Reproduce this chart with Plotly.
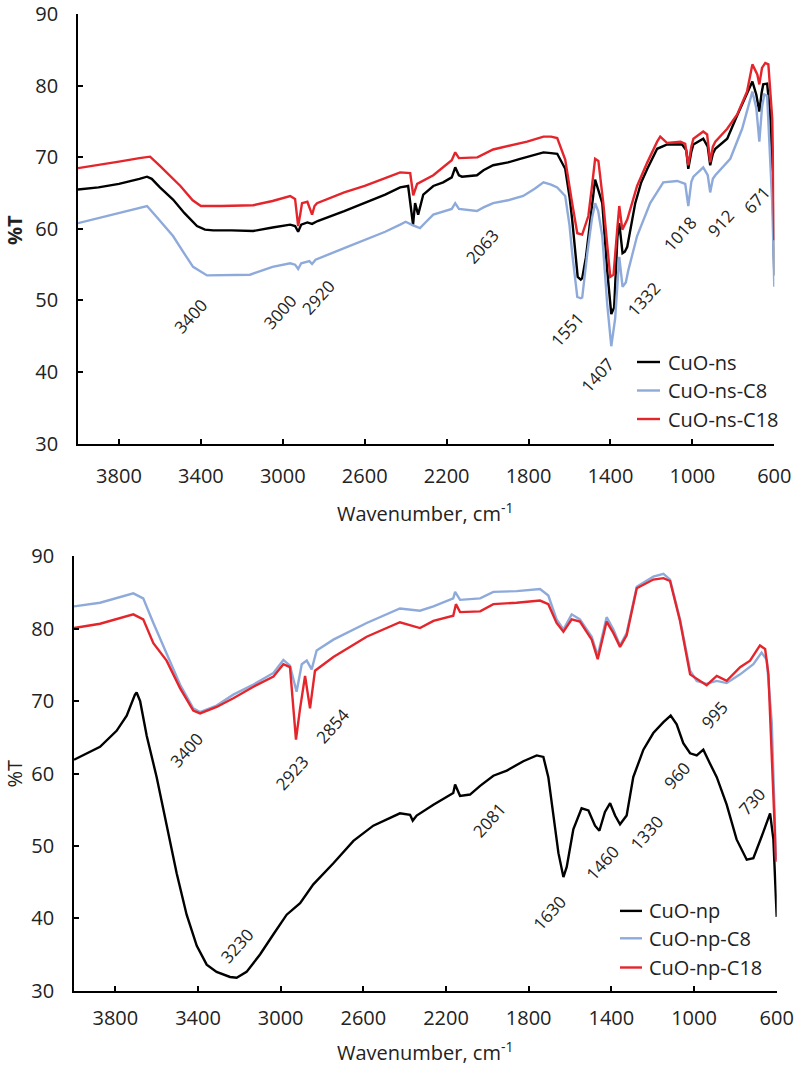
import plotly.graph_objects as go

# ---------------- Top panel: CuO-ns ----------------
ns_wn = [4000, 3900, 3800, 3750, 3700, 3663, 3640, 3600, 3536, 3480, 3419, 3380, 3340, 3250, 3145,
         3050, 2964, 2940, 2925, 2910, 2880, 2857, 2830, 2700, 2600, 2500, 2427, 2388, 2364, 2354,
         2339, 2314, 2265, 2217, 2175, 2158, 2140, 2125, 2052, 2020, 1973, 1900, 1841, 1780, 1727,
         1690, 1660, 1621, 1600, 1587, 1560, 1545, 1538, 1520, 1508, 1490, 1475, 1460, 1440, 1416,
         1396, 1382, 1366, 1357, 1341, 1330, 1318, 1279, 1250, 1220, 1172, 1123, 1050, 1030, 1020,
         1005, 995, 947, 925, 913, 900, 888, 830, 781, 733, 707, 688, 673, 662, 654, 635, 620, 610, 600]
ns_T = [65.5, 65.8, 66.3, 66.6, 67.0, 67.3, 67.0, 65.8, 64.1, 62.2, 60.4, 59.9, 59.8, 59.8, 59.7,
        60.2, 60.6, 60.4, 59.6, 60.6, 60.9, 60.7, 61.1, 62.5, 63.6, 64.8, 65.8, 66.0, 60.6, 63.6,
        62.0, 64.8, 66.0, 66.5, 67.2, 68.6, 67.5, 67.3, 67.5, 68.2, 68.9, 69.3, 69.8, 70.3, 70.7,
        70.6, 70.5, 68.4, 64.5, 61.3, 53.3, 52.9, 53.1, 56.0, 58.9, 63.0, 66.9, 65.5, 63.6, 54.2,
        48.1, 49.0, 58.9, 60.8, 56.6, 56.8, 57.5, 63.6, 66.5, 68.4, 71.2, 71.8, 71.8, 71.0, 68.4,
        70.8, 71.8, 72.6, 71.5, 68.9, 70.5, 71.2, 72.6, 75.9, 78.8, 80.6, 78.8, 76.4, 79.0, 80.2,
        80.3, 76.0, 68.4, 53.5]

ns_c8_wn = [4000, 3900, 3800, 3700, 3663, 3620, 3536, 3480, 3438, 3370, 3250, 3160, 3050, 2964, 2940,
            2925, 2910, 2870, 2857, 2840, 2700, 2600, 2500, 2427, 2400, 2364, 2330, 2300, 2265, 2175,
            2158, 2140, 2052, 2020, 1973, 1900, 1826, 1770, 1727, 1690, 1660, 1621, 1600, 1587, 1562,
            1545, 1538, 1513, 1490, 1475, 1460, 1440, 1416, 1396, 1377, 1357, 1341, 1325, 1313, 1270,
            1206, 1142, 1074, 1035, 1020, 1005, 995, 947, 925, 913, 900, 888, 815, 757, 707, 688, 673,
            660, 649, 635, 620, 610, 600]
ns_c8_T = [60.8, 61.5, 62.2, 62.9, 63.2, 61.8, 59.0, 56.5, 54.7, 53.5, 53.5, 53.6, 54.7, 55.2, 55.0,
           54.4, 55.2, 55.5, 55.1, 55.7, 57.3, 58.4, 59.6, 60.6, 61.0, 60.5, 60.1, 61.0, 62.0, 62.8,
           63.6, 62.8, 62.5, 63.0, 63.6, 64.0, 64.6, 65.6, 66.5, 66.2, 65.8, 64.6, 60.5, 56.6, 50.5,
           50.3, 50.4, 56.6, 61.5, 63.6, 62.5, 59.0, 49.5, 43.6, 47.5, 56.1, 51.9, 52.5, 54.2, 59.0,
           63.6, 66.5, 66.7, 66.3, 63.2, 66.6, 67.3, 68.6, 67.5, 65.1, 67.0, 67.5, 69.8, 74.0, 79.2,
           76.9, 72.2, 77.0, 78.8, 78.6, 70.0, 63.6, 51.9]

ns_c18_wn = [4000, 3900, 3800, 3700, 3648, 3600, 3500, 3440, 3400, 3300, 3145, 3050, 2964, 2940, 2925,
             2915, 2906, 2880, 2857, 2845, 2833, 2700, 2600, 2500, 2427, 2378, 2363, 2344, 2300, 2265,
             2175, 2158, 2140, 2100, 2050, 1973, 1900, 1807, 1727, 1690, 1660, 1621, 1587, 1562, 1538,
             1508, 1490, 1475, 1459, 1435, 1401, 1385, 1367, 1357, 1342, 1318, 1270, 1220, 1172, 1157,
             1123, 1058, 1035, 1020, 1005, 995, 947, 928, 913, 900, 888, 830, 781, 733, 707, 683, 673,
             660, 644, 629, 610, 600]
ns_c18_T = [68.5, 68.9, 69.4, 69.9, 70.1, 68.8, 66.0, 64.0, 63.2, 63.2, 63.3, 63.9, 64.6, 64.2, 60.4,
            62.0, 63.6, 63.8, 62.0, 63.2, 63.6, 65.1, 66.0, 67.1, 67.9, 67.8, 64.7, 66.3, 67.0, 67.5,
            69.6, 70.7, 69.9, 69.9, 70.0, 71.1, 71.6, 72.2, 72.9, 72.9, 72.7, 69.7, 63.6, 59.4, 59.2,
            61.8, 66.0, 69.8, 69.5, 63.6, 53.3, 53.6, 59.9, 63.2, 59.9, 61.3, 66.0, 69.3, 72.2, 72.9,
            72.0, 72.2, 71.9, 68.9, 71.5, 72.6, 73.6, 73.2, 69.3, 71.5, 72.2, 74.0, 76.0, 79.2, 83.0,
            81.6, 80.2, 82.5, 83.2, 83.0, 75.4, 58.4]

# ---------------- Bottom panel: CuO-np ----------------
np_wn = [4000, 3874, 3794, 3745, 3705, 3697, 3680, 3648, 3600, 3552, 3503, 3455, 3406, 3358, 3310,
         3245, 3213, 3165, 3100, 3035, 2971, 2906, 2842, 2745, 2648, 2552, 2423, 2374, 2361, 2342,
         2261, 2165, 2156, 2132, 2084, 2035, 1971, 1906, 1826, 1761, 1729, 1705, 1681, 1656, 1632,
         1616, 1584, 1544, 1511, 1479, 1458, 1431, 1406, 1382, 1358, 1326, 1294, 1245, 1197, 1148,
         1113, 1084, 1052, 1019, 987, 955, 923, 890, 842, 794, 745, 713, 665, 632, 616, 600]
np_T = [61.9, 63.7, 65.9, 68.0, 70.9, 71.2, 70.0, 65.2, 59.5, 52.8, 46.2, 40.5, 36.2, 33.6, 32.6,
        31.9, 31.8, 32.6, 35.0, 37.8, 40.5, 42.1, 44.7, 47.6, 50.7, 52.8, 54.5, 54.3, 53.5, 54.2,
        55.7, 57.3, 58.5, 56.9, 57.1, 58.3, 59.7, 60.4, 61.7, 62.5, 62.3, 59.5, 54.2, 49.0, 45.7,
        47.1, 52.3, 55.2, 54.9, 52.8, 52.1, 54.7, 55.9, 54.2, 53.0, 54.2, 59.5, 63.3, 65.6, 67.1,
        68.0, 66.8, 64.2, 62.8, 62.5, 63.3, 61.4, 59.5, 55.7, 50.9, 48.1, 48.3, 51.9, 54.5, 50.9, 40.2]

np_c8_wn = [4000, 3874, 3713, 3665, 3616, 3552, 3487, 3423, 3390, 3310, 3229, 3132, 3035, 2987, 2955,
            2923, 2898, 2874, 2850, 2826, 2745, 2584, 2423, 2326, 2261, 2165, 2156, 2132, 2035, 1971,
            1858, 1745, 1705, 1665, 1632, 1592, 1552, 1495, 1466, 1423, 1390, 1358, 1326, 1277, 1197,
            1148, 1116, 1068, 1019, 987, 939, 890, 842, 777, 713, 673, 648, 624, 603]
np_c8_T = [83.1, 83.6, 84.9, 84.2, 80.8, 76.6, 72.3, 69.0, 68.5, 69.4, 70.9, 72.3, 73.9, 75.7, 74.9,
           71.3, 75.1, 75.6, 74.4, 77.0, 78.5, 80.8, 82.8, 82.5, 83.1, 84.2, 85.1, 84.0, 84.2, 85.1,
           85.2, 85.5, 84.6, 81.3, 79.9, 82.0, 81.3, 78.9, 76.3, 81.6, 79.9, 77.7, 79.4, 85.8, 87.2,
           87.6, 86.8, 81.3, 74.2, 72.8, 72.4, 72.8, 72.5, 73.7, 75.1, 76.7, 75.7, 67.1, 48.1]

np_c18_wn = [4000, 3874, 3713, 3665, 3616, 3552, 3487, 3423, 3390, 3310, 3229, 3132, 3035, 2987, 2955,
             2926, 2906, 2882, 2858, 2834, 2745, 2584, 2423, 2326, 2261, 2165, 2152, 2132, 2035, 1971,
             1858, 1745, 1705, 1665, 1632, 1592, 1552, 1495, 1466, 1423, 1390, 1358, 1326, 1277, 1197,
             1148, 1116, 1068, 1019, 987, 939, 890, 842, 777, 729, 681, 656, 640, 616, 603]
np_c18_T = [80.1, 80.7, 82.0, 81.3, 78.0, 75.6, 71.8, 68.7, 68.3, 69.2, 70.4, 72.0, 73.4, 75.1, 74.7,
            64.7, 69.0, 73.5, 69.0, 74.2, 76.1, 78.9, 80.9, 80.1, 81.1, 81.8, 83.4, 82.3, 82.4, 83.4,
            83.6, 83.9, 83.4, 80.8, 79.6, 81.3, 81.0, 78.5, 75.8, 81.0, 79.4, 77.5, 79.1, 85.6, 86.8,
            87.0, 86.6, 81.1, 73.7, 73.1, 72.2, 73.5, 72.8, 74.7, 75.6, 77.7, 77.2, 73.7, 58.0, 47.8]

# Peak labels (text, wavenumber position, %T position)
top_labels = ["3400", "3000", "2920", "2063", "1551", "1407", "1332", "1018", "912", "671"]
top_lab_x = [3453, 3014, 2828, 2027, 1612, 1461, 1241, 1061, 865, 685]
top_lab_y = [47.8, 48.5, 50.4, 57.5, 45.9, 39.6, 50.2, 59.4, 60.8, 64.1]

bot_labels = ["3400", "2923", "2854", "3230", "2081", "1630", "1460", "1330", "960", "995", "730"]
bot_lab_x = [3454, 2946, 2747, 3212, 1988, 1698, 1442, 1229, 1084, 900, 721]
bot_lab_y = [63.3, 60.2, 66.6, 36.3, 53.6, 40.8, 47.7, 51.9, 59.8, 68.1, 56.2]

top_names = ["CuO-ns", "CuO-ns-C8", "CuO-ns-C18"]
bot_names = ["CuO-np", "CuO-np-C8", "CuO-np-C18"]
colors = ["#000000", "#8eaadb", "#e4252b"]

x_ticks = [3800, 3400, 3000, 2600, 2200, 1800, 1400, 1000, 600]
y_ticks = [30, 40, 50, 60, 70, 80, 90]

FONT = "Open Sans, Noto Sans, sans-serif"
TXT = "#222222"
W, H = 800, 1068

fig = go.Figure()
top_series = [(ns_wn, ns_T), (ns_c8_wn, ns_c8_T), (ns_c18_wn, ns_c18_T)]
bot_series = [(np_wn, np_T), (np_c8_wn, np_c8_T), (np_c18_wn, np_c18_T)]
for (xs, ys), name, col in zip(top_series, top_names, colors):
    fig.add_trace(go.Scatter(x=xs, y=ys, mode="lines", name=name, xaxis="x", yaxis="y",
                             line=dict(color=col, width=2.4), showlegend=False))
for (xs, ys), name, col in zip(bot_series, bot_names, colors):
    fig.add_trace(go.Scatter(x=xs, y=ys, mode="lines", name=name, xaxis="x2", yaxis="y2",
                             line=dict(color=col, width=2.4), showlegend=False))

axis_common = dict(showgrid=False, zeroline=False, showline=True, linecolor="black", linewidth=1.6,
                   ticks="inside", ticklen=5, tickwidth=1.6, tickcolor="black", automargin=False,
                   tickfont=dict(family=FONT, size=20, color=TXT))
xcommon = dict(axis_common, range=[4000, 600], tickvals=x_ticks)
ycommon = dict(axis_common, range=[30, 90], tickvals=y_ticks, ticklabelstandoff=14)

fig.update_layout(
    width=W, height=H, margin=dict(l=0, r=0, t=0, b=0, autoexpand=False),
    paper_bgcolor="white", plot_bgcolor="white",
    xaxis=dict(xcommon, domain=[78 / W, 774.3 / W], anchor="y", ticklabelstandoff=14),
    yaxis=dict(ycommon, domain=[1 - 443.5 / H, 1 - 14.3 / H], anchor="x"),
    xaxis2=dict(xcommon, domain=[74 / W, 776.7 / W], anchor="y2", ticklabelstandoff=8),
    yaxis2=dict(ycommon, domain=[1 - 990.7 / H, 1 - 556.4 / H], anchor="x2"),
)

ann = []
for t, x, y in zip(top_labels, top_lab_x, top_lab_y):
    ann.append(dict(text=t, x=x, y=y, xref="x", yref="y", showarrow=False, textangle=-48,
                    xanchor="center", yanchor="middle",
                    font=dict(family=FONT, size=17, color=TXT)))
for t, x, y in zip(bot_labels, bot_lab_x, bot_lab_y):
    ann.append(dict(text=t, x=x, y=y, xref="x2", yref="y2", showarrow=False, textangle=-48,
                    xanchor="center", yanchor="middle",
                    font=dict(family=FONT, size=17, color=TXT)))

# axis titles
for ypix in (512, 1051.5):
    ann.append(dict(text="Wavenumber, cm<sup>-1</sup>", x=425 / W, y=1 - ypix / H, xref="paper", yref="paper",
                    xanchor="center", yanchor="middle", showarrow=False,
                    font=dict(family=FONT, size=20, color=TXT)))
ann.append(dict(text="<b>%T</b>", x=15 / W, y=1 - 230 / H, xref="paper", yref="paper", textangle=-90,
                xanchor="center", yanchor="middle", showarrow=False,
                font=dict(family=FONT, size=20, color=TXT)))
ann.append(dict(text="%T", x=15 / W, y=1 - 773.6 / H, xref="paper", yref="paper", textangle=-90,
                xanchor="center", yanchor="middle", showarrow=False,
                font=dict(family=FONT, size=20, color=TXT)))

# manual legends
shapes = []
top_rows = [362, 390.5, 419]
bot_rows = [910.9, 938.3, 967.5]
for name, col, r in zip(top_names, colors, top_rows):
    shapes.append(dict(type="line", xref="paper", yref="paper", x0=637 / W, x1=660 / W,
                       y0=1 - r / H, y1=1 - r / H, line=dict(color=col, width=2.4)))
    ann.append(dict(text=name, x=666 / W, y=1 - r / H, xref="paper", yref="paper", xanchor="left",
                    yanchor="middle", showarrow=False, font=dict(family=FONT, size=20, color=TXT)))
for name, col, r in zip(bot_names, colors, bot_rows):
    shapes.append(dict(type="line", xref="paper", yref="paper", x0=620 / W, x1=642 / W,
                       y0=1 - r / H, y1=1 - r / H, line=dict(color=col, width=2.4)))
    ann.append(dict(text=name, x=647 / W, y=1 - r / H, xref="paper", yref="paper", xanchor="left",
                    yanchor="middle", showarrow=False, font=dict(family=FONT, size=20, color=TXT)))

fig.update_layout(annotations=ann, shapes=shapes)
fig.write_html("out.html", config={"displayModeBar": False},
               post_script="document.body.style.margin='0px';document.body.style.overflow='hidden';")
